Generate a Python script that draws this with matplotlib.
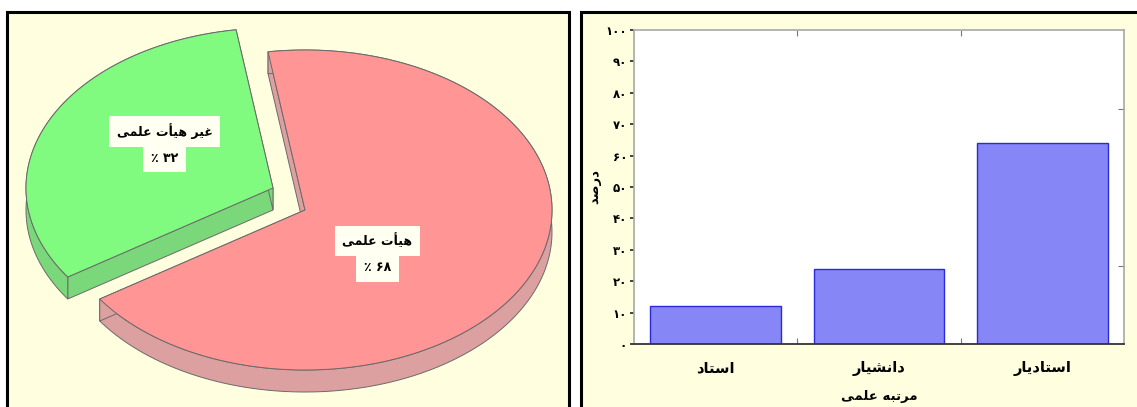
import numpy as np
import matplotlib.pyplot as plt
from matplotlib.patches import Polygon, Rectangle
from matplotlib.ticker import FixedLocator

# --- data ---
pie_labels = ['هیأت علمی', 'غیر هیأت علمی']
pie_values = [68, 32]
pie_top_colors = ['#FF9595', '#80FB80']
pie_side_colors = ['#DDA0A0', '#7AD87A']

rank_labels = ['استاد', 'دانشیار', 'استادیار']
rank_values = [12, 24, 64]
y_ticks = [0, 10, 20, 30, 40, 50, 60, 70, 80, 90, 100]

x_title = 'مرتبه علمی'
y_title = 'درصد'

PANEL = '#FFFFE0'
FONT = 'DejaVu Sans'

# minimal arabic/persian shaping (isolated, final, initial, medial)
FORMS = {
    'ا': ('\uFE8D', '\uFE8E', None, None),
    'أ': ('\uFE83', '\uFE84', None, None),
    'ب': ('\uFE8F', '\uFE90', '\uFE91', '\uFE92'),
    'ت': ('\uFE95', '\uFE96', '\uFE97', '\uFE98'),
    'د': ('\uFEA9', '\uFEAA', None, None),
    'ر': ('\uFEAD', '\uFEAE', None, None),
    'س': ('\uFEB1', '\uFEB2', '\uFEB3', '\uFEB4'),
    'ش': ('\uFEB5', '\uFEB6', '\uFEB7', '\uFEB8'),
    'ص': ('\uFEB9', '\uFEBA', '\uFEBB', '\uFEBC'),
    'ع': ('\uFEC9', '\uFECA', '\uFECB', '\uFECC'),
    'غ': ('\uFECD', '\uFECE', '\uFECF', '\uFED0'),
    'ل': ('\uFEDD', '\uFEDE', '\uFEDF', '\uFEE0'),
    'م': ('\uFEE1', '\uFEE2', '\uFEE3', '\uFEE4'),
    'ن': ('\uFEE5', '\uFEE6', '\uFEE7', '\uFEE8'),
    'ه': ('\uFEE9', '\uFEEA', '\uFEEB', '\uFEEC'),
    'ی': ('\uFBFC', '\uFBFD', '\uFBFE', '\uFBFF'),
}


def joins_forward(ch):
    return ch in FORMS and FORMS[ch][2] is not None


def rtl(text):
    out = []
    for i, ch in enumerate(text):
        if ch not in FORMS:
            out.append(ch)
            continue
        prev_j = i > 0 and joins_forward(text[i - 1])
        next_j = i + 1 < len(text) and text[i + 1] in FORMS and joins_forward(ch)
        iso, fin, ini, med = FORMS[ch]
        if prev_j and next_j:
            out.append(med)
        elif prev_j:
            out.append(fin)
        elif next_j:
            out.append(ini)
        else:
            out.append(iso)
    return ''.join(out[::-1])


def fa(n):
    return str(n).translate(str.maketrans('0123456789', '۰۱۲۳۴۵۶۷۸۹'))


fig = plt.figure(figsize=(11.37, 4.07), dpi=100)
fig.patch.set_facecolor('white')

# background axes in pixel units for panels and the pie
bg = fig.add_axes([0, 0, 1, 1])
bg.set_xlim(0, 1137)
bg.set_ylim(407, 0)
bg.axis('off')
bg.add_patch(Rectangle((7, 11.5), 562, 420, facecolor=PANEL, edgecolor='none'))
bg.add_patch(Rectangle((581, 12), 600, 420, facecolor=PANEL, edgecolor='none'))
# panel frames (bottom and far right are cut off in the source)
bg.plot([7, 7, 569, 569], [410, 11.5, 11.5, 410], color='black', lw=2.2,
        solid_joinstyle='miter')
bg.plot([581, 581, 1140], [410, 12, 12], color='black', lw=2.2, solid_joinstyle='miter')

# --- pseudo 3d pie ---
cx, cy, a, b, depth = 305, 210, 247, 160, 22
explode = [(0, 0), (-32, -22)]
angle = 98.6
total = sum(pie_values)
z = 2
for value, label, top_c, side_c, (ox, oy) in zip(pie_values, pie_labels, pie_top_colors,
                                                  pie_side_colors, explode):
    sweep = 360 * value / total
    t = np.radians(np.linspace(angle, angle - sweep, 200))
    px = cx + ox + a * np.cos(t)
    py = cy + oy - b * np.sin(t)
    c0 = (cx + ox, cy + oy)
    face1 = [c0, (px[0], py[0]), (px[0], py[0] + depth), (c0[0], c0[1] + depth)]
    face2 = [c0, (px[-1], py[-1]), (px[-1], py[-1] + depth), (c0[0], c0[1] + depth)]
    wall = np.column_stack([np.r_[px, px[::-1]], np.r_[py, py[::-1] + depth]])
    top = np.vstack([[c0], np.column_stack([px, py])])
    for poly in (face1, wall, face2):
        bg.add_patch(Polygon(poly, closed=True, facecolor=side_c, edgecolor='#6a6a6a',
                             lw=0.7, zorder=z))
    bg.add_patch(Polygon(top, closed=True, facecolor=top_c, edgecolor='#6a6a6a',
                         lw=0.7, zorder=z + 1))

    m = np.radians(angle - sweep / 2)
    lx = c0[0] + 0.4 * a * np.cos(m) - 18
    ly = c0[1] - 0.68 * b * np.sin(m)
    box = dict(boxstyle='square,pad=0.6', facecolor='#FFFFF2', edgecolor='none')
    bg.text(lx, ly - 13, rtl(label), ha='center', va='center', fontsize=9,
            fontweight='bold', family=FONT, bbox=box, zorder=z + 2)
    bg.text(lx, ly + 14, '٪ ' + fa(value), ha='center', va='center', fontsize=9,
            fontweight='bold', family=FONT, bbox=box, zorder=z + 2)
    angle -= sweep
    z += 3

# --- bar chart ---
ax = fig.add_axes([634 / 1137, (407 - 344) / 407, (1124 - 634) / 1137, (344 - 30) / 407])
ax.set_facecolor('white')
x = np.arange(len(rank_values))
ax.bar(x, rank_values, width=0.8, color='#8686F6', edgecolor='#2A2AD8', lw=1.0)
ax.set_xlim(-0.5, 2.5)
ax.set_ylim(0, 100)
ax.set_xticks(x)
ax.set_xticklabels([rtl(s) for s in rank_labels], fontsize=10.5, fontweight='bold', family=FONT)
ax.set_yticks(y_ticks)
ax.set_yticklabels([fa(v) for v in y_ticks], fontsize=8.5, fontweight='bold', family=FONT)
ax.tick_params(axis='x', which='major', length=0, pad=12)
ax.tick_params(axis='y', which='major', length=3, width=1.2, direction='out', pad=2,
               color='#222222')
ax.xaxis.set_minor_locator(FixedLocator([0.5, 1.5]))
ax.yaxis.set_minor_locator(FixedLocator([25, 50, 75]))
ax.tick_params(which='minor', direction='in', length=4, width=0.8, color='#777777',
               top=True, bottom=True, left=False, right=True)
for side in ('top', 'right', 'left'):
    ax.spines[side].set_color('#A8A8A8')
    ax.spines[side].set_linewidth(1.2)
ax.spines['bottom'].set_color('#333333')
ax.spines['bottom'].set_linewidth(1.3)
ax.set_xlabel(rtl(x_title), fontsize=9.5, fontweight='bold', family=FONT, labelpad=10)
ax.set_ylabel(rtl(y_title), fontsize=9.5, fontweight='bold', family=FONT, labelpad=3)

fig.savefig('out.png', dpi=100)
